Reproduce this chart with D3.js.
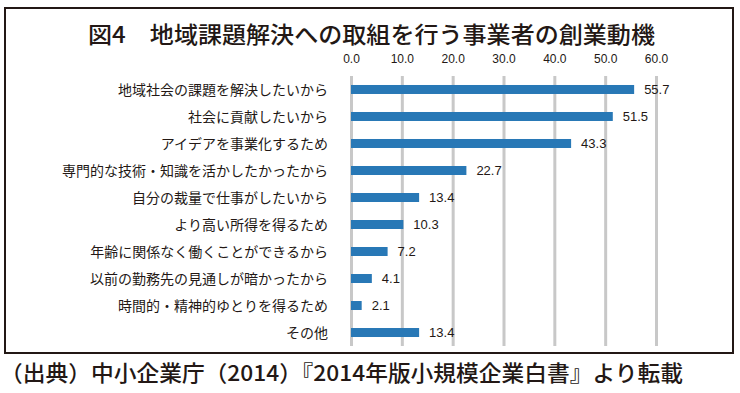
<!DOCTYPE html>
<html>
<head>
<meta charset="utf-8">
<script src="https://cdn.jsdelivr.net/npm/d3@7"></script>
<style>
  body { margin: 0; background: #fff; }
  svg text { font-family: "Noto Sans CJK JP", "Noto Sans", sans-serif; fill: #231815; }
  .num { font-family: "Liberation Sans", Arial, sans-serif; }
</style>
</head>
<body>
<script>
// chart data
let categories = [
    '地域社会の課題を解決したいから',
    '社会に貢献したいから',
    'アイデアを事業化するため',
    '専門的な技術・知識を活かしたかったから',
    '自分の裁量で仕事がしたいから',
    'より高い所得を得るため',
    '年齢に関係なく働くことができるから',
    '以前の勤務先の見通しが暗かったから',
    '時間的・精神的ゆとりを得るため',
    'その他'
]
let values = [55.7, 51.5, 43.3, 22.7, 13.4, 10.3, 7.2, 4.1, 2.1, 13.4]
let ticks = [0, 10, 20, 30, 40, 50, 60]

let titleText = '図4\u3000地域課題解決への取組を行う事業者の創業動機'
let sourceText = '（出典）中小企業庁（2014）『2014年版小規模企業白書』より転載'

let width = 740
let height = 393

let svg = d3.select('body').append('svg')
    .attr('width', width)
    .attr('height', height)

// frame around the chart
svg.append('rect')
    .attr('x', 5).attr('y', 8)
    .attr('width', 728).attr('height', 345)
    .attr('fill', 'none')
    .attr('stroke', '#231815')
    .attr('stroke-width', 2)

// title, stretched to the width it has in the picture
svg.append('text')
    .attr('x', 88).attr('y', 43)
    .attr('font-size', 23)
    .attr('font-weight', 500)
    .attr('textLength', 567)
    .attr('lengthAdjust', 'spacingAndGlyphs')
    .text(titleText)

// scales
let x = d3.scaleLinear().domain([0, 60]).range([351, 656])
let y = d3.scaleBand().domain(categories).range([76, 346])
    .paddingInner(0.667).paddingOuter(0.333)

// gridlines + tick labels
let axis = svg.append('g')
    .attr('transform', 'translate(0,76)')
    .call(d3.axisTop(x).tickValues(ticks).tickSize(-270).tickFormat(d3.format('.1f')))
axis.select('.domain').remove()
axis.selectAll('.tick line')
    .attr('stroke', '#c8c8c8')
    .attr('stroke-width', 3)
axis.selectAll('.tick text')
    .attr('class', 'num')
    .attr('y', -13)
    .attr('font-size', 12)
    .attr('fill', '#231815')

// bars
svg.selectAll('.bar')
    .data(values)
    .enter().append('rect')
    .attr('class', 'bar')
    .attr('x', x(0))
    .attr('y', (d, i) => y(categories[i]))
    .attr('width', d => x(d) - x(0))
    .attr('height', y.bandwidth())
    .attr('fill', '#2878b6')

// value labels
svg.selectAll('.val')
    .data(values)
    .enter().append('text')
    .attr('class', 'val num')
    .attr('x', d => x(d) + 10)
    .attr('y', (d, i) => y(categories[i]) + y.bandwidth() / 2)
    .attr('dy', '0.36em')
    .attr('font-size', 13)
    .text(d => d3.format('.1f')(d))

// category labels
svg.selectAll('.cat')
    .data(categories)
    .enter().append('text')
    .attr('class', 'cat')
    .attr('x', 328)
    .attr('y', d => y(d) + y.bandwidth() / 2)
    .attr('dy', '0.36em')
    .attr('text-anchor', 'end')
    .attr('font-size', 14)
    .text(d => d)

// source note
svg.append('text')
    .attr('x', 0).attr('y', 381)
    .attr('font-size', 22)
    .attr('font-weight', 500)
    .attr('textLength', 683)
    .attr('lengthAdjust', 'spacingAndGlyphs')
    .text(sourceText)
</script>
</body>
</html>
